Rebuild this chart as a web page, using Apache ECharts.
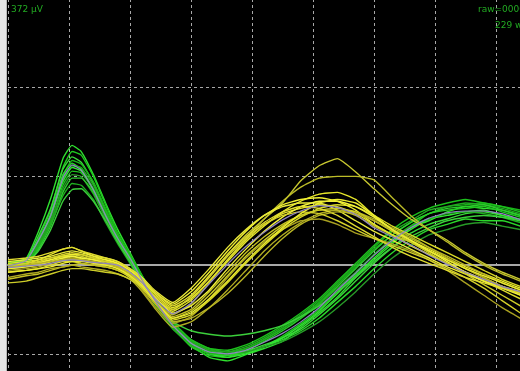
<!DOCTYPE html>
<html>
<head>
<meta charset="utf-8">
<script src="https://cdn.jsdelivr.net/npm/echarts@6/dist/echarts.min.js"></script>
<style>
html,body{margin:0;padding:0;background:#000;}
#c{width:520px;height:371px;}
</style>
</head>
<body>
<div id="c"></div>
<script>
// time axis (ms) shared by all traces
const timesMs = [0,3,5,7,9,10.5,12,14,16,18,20,22,24,27,30,33,36,39,42,45,48,51,54,57,60,63,66,69,72,75,78,81,84];

// green traces (µV-like units, 100 per division)
const g1  = [2,8,38,75,120,135,128,102,70,40,14,-12,-36,-66,-90,-104,-108,-101,-94,-86,-70,-54,-36,-14,6,24,42,50,60,66,64,62,56];
const g2  = [-2,4,30,62,110,128,124,100,68,36,10,-15,-38,-70,-92,-102,-104,-98,-92,-80,-66,-50,-30,-10,12,28,44,58,62,64,66,60,54];
const g3  = [0,6,33,64,108,122,116,92,62,34,10,-16,-40,-68,-86,-96,-100,-97,-90,-82,-72,-56,-38,-18,2,20,36,46,52,58,60,56,52];
const g4  = [-4,1,22,52,100,118,114,94,64,36,12,-12,-36,-64,-84,-94,-98,-94,-84,-72,-58,-42,-22,-2,18,34,48,58,66,68,70,66,62];
const g5  = [1,5,26,58,102,115,108,86,56,28,6,-18,-42,-70,-90,-100,-102,-99,-92,-84,-74,-60,-42,-24,-4,14,28,40,46,52,50,50,44];
const g6  = [-1,2,24,54,96,112,110,90,60,32,8,-16,-38,-66,-86,-96,-98,-92,-82,-70,-56,-40,-20,0,20,38,50,62,66,70,68,64,58];
const g7  = [3,6,28,56,94,110,106,84,54,28,6,-18,-40,-70,-90,-100,-104,-100,-92,-82,-68,-52,-32,-12,8,26,40,52,56,60,62,56,50];
const g8  = [-2,3,20,48,90,106,104,86,58,32,10,-14,-36,-64,-84,-94,-96,-90,-80,-68,-54,-38,-18,2,22,40,54,64,70,74,70,66,60];
const g9  = [0,4,24,50,86,102,100,80,52,26,4,-20,-42,-70,-88,-98,-100,-98,-92,-86,-76,-64,-48,-30,-10,8,22,34,40,46,48,44,40];
const g10 = [-3,0,18,44,82,98,98,82,56,30,8,-16,-40,-68,-88,-98,-102,-96,-86,-74,-60,-44,-24,-4,16,34,48,58,64,66,68,62,56];
const g11 = [2,4,22,46,78,92,90,74,48,24,2,-22,-44,-72,-90,-100,-100,-94,-84,-72,-58,-44,-26,-8,12,30,44,52,58,60,58,54,48];
const g12 = [0,2,16,40,72,85,86,72,50,26,4,-20,-42,-64,-74,-78,-80,-78,-74,-68,-58,-46,-30,-14,4,20,32,42,50,54,56,54,50];

// yellow traces
const y1  = [-2,0,3,6,10,12,10,6,4,0,-10,-22,-38,-50,-36,-12,12,34,52,70,95,112,120,105,86,68,52,40,28,14,2,-8,-16];
const y2  = [-4,-2,0,4,8,8,6,2,0,-4,-14,-26,-40,-56,-44,-20,6,30,52,72,88,98,100,100,96,76,56,40,26,12,0,-10,-18];
const y3  = [-6,-4,-2,2,6,8,6,4,2,-2,-12,-28,-46,-66,-58,-38,-14,8,26,40,50,52,46,36,30,24,16,6,-6,-20,-34,-48,-60];
const y4  = [0,2,6,12,18,20,16,10,6,2,-6,-18,-32,-48,-38,-18,4,26,44,60,72,80,82,74,56,40,28,18,8,-2,-10,-18,-26];
const y5  = [-8,-6,-4,0,4,4,2,0,-2,-6,-14,-26,-42,-62,-56,-40,-20,2,22,40,54,64,68,66,56,44,34,24,14,4,-6,-16,-24];
const y6  = [-2,0,2,6,10,12,12,8,6,2,-6,-16,-30,-44,-30,-8,16,38,56,68,74,76,72,62,46,34,22,12,2,-8,-16,-24,-32];
const y7  = [-16,-12,-10,-6,-2,0,2,0,-2,-6,-12,-24,-40,-58,-50,-30,-8,14,32,46,56,62,62,56,44,34,26,16,6,-4,-14,-24,-34];
const y8  = [4,6,8,10,14,16,14,10,8,4,-4,-14,-28,-42,-26,-4,20,40,56,66,70,70,62,50,38,28,18,8,-2,-10,-18,-24,-30];
const y9  = [-14,-10,-8,-4,-2,0,-2,-4,-6,-10,-16,-30,-48,-70,-64,-48,-28,-6,16,34,48,58,62,60,52,42,32,20,8,-4,-14,-24,-32];
const y10 = [2,4,6,8,10,10,8,6,4,0,-8,-20,-36,-52,-40,-18,6,28,46,58,64,68,66,58,46,34,22,12,2,-8,-18,-28,-38];
const y11 = [-4,-2,0,4,8,10,8,6,2,-2,-10,-22,-36,-54,-46,-28,-4,18,38,54,66,72,72,66,54,40,28,16,4,-8,-18,-26,-34];
const y12 = [-20,-18,-14,-10,-6,-4,-4,-6,-8,-10,-16,-26,-42,-60,-52,-34,-12,10,28,44,56,62,64,60,50,38,26,14,2,-10,-22,-34,-46];
const y13 = [6,8,10,14,18,20,16,12,8,4,-4,-16,-30,-46,-34,-12,12,32,48,60,66,64,56,44,32,20,10,2,-6,-14,-20,-26,-32];
const y14 = [-2,0,2,4,6,6,6,4,2,-2,-10,-24,-42,-64,-60,-48,-32,-12,10,30,46,56,60,58,50,40,30,20,10,0,-10,-20,-28];
const y15 = [0,2,4,8,12,14,12,8,4,0,-8,-20,-34,-50,-36,-14,10,30,46,56,60,58,50,40,30,22,14,6,-4,-14,-26,-40,-54];
const y16 = [-8,-6,-4,-2,2,4,4,2,0,-4,-12,-24,-40,-60,-54,-38,-18,4,24,42,58,70,74,70,56,40,28,16,6,-4,-12,-20,-28];

// mean traces
const greenMean  = [-1,5,28,56,98,113,107,85,56,30,8,-17,-39,-68,-88,-98,-100,-96,-87,-77,-64,-48,-28,-9,11,28,42,53,59,61,61,58,51];
const yellowMean = [-3,-1,0,2,5,6,5,3,2,0,-8,-20,-37,-55,-43,-21,1,21,37,51,61,67,65,57,42,32,23,11,1,-8,-16,-24,-30];

// labels
const scaleLabel = '372 µV';
const rawLabel = 'raw=00001';
const countLabel = '229 w';

const greenTraces = [g1,g2,g3,g4,g5,g6,g7,g8,g9,g10,g11,g12];
const yellowTraces = [y1,y2,y3,y4,y5,y6,y7,y8,y9,y10,y11,y12,y13,y14,y15,y16];
const greenColors = ['#2fe02f','#1fc81f','#39d739','#18b418','#2ad82a','#22a822','#33e633','#1cbf1c','#279a27','#2ccc2c','#1fb01f','#3bcf3b'];
const yellowColors = ['#c8c830','#bcbc28','#a8a020','#e6e62a','#d8d826','#f0f032','#c4c024','#e8e83a','#b0ac22','#dede2c','#f2f23a','#cccc28','#e0dc30','#b8b424','#d4d02a','#ecec30'];

function pairs(arr){ return timesMs.map((t,i)=>[t,arr[i]]); }

const series = [];
greenTraces.forEach((tr,i)=>series.push({
  type:'line', data:pairs(tr), showSymbol:false, smooth:0.15, silent:true,
  lineStyle:{color:greenColors[i], width:1.4}
}));
yellowTraces.forEach((tr,i)=>series.push({
  type:'line', data:pairs(tr), showSymbol:false, smooth:0.15, silent:true,
  lineStyle:{color:yellowColors[i], width:1.4}
}));
[greenMean, yellowMean].forEach(tr=>series.push({
  type:'line', data:pairs(tr), showSymbol:false, smooth:0.15, silent:true,
  lineStyle:{color:'#8f84c0', width:1.2}
}));

const chart = echarts.init(document.getElementById('c'), null, {renderer:'canvas'});
chart.setOption({
  backgroundColor:'#000',
  animation:false,
  grid:{left:8, top:-1, width:549, height:443.5, outerBoundsMode:'none', containLabel:false},
  xAxis:{
    type:'value', min:0, max:90, interval:10,
    axisLine:{show:true, onZero:true, lineStyle:{color:'#a8a8a8', width:2}},
    axisTick:{show:false}, axisLabel:{show:false},
    splitLine:{show:true, lineStyle:{color:'#a8a8a8', width:1, type:[3,3]}}
  },
  yAxis:{
    type:'value', min:-200, max:300, interval:100,
    axisLine:{show:false}, axisTick:{show:false}, axisLabel:{show:false},
    splitLine:{show:true, lineStyle:{color:'#a8a8a8', width:1, type:[3,3]}}
  },
  graphic:[
    {type:'rect', left:0, top:0, shape:{width:7, height:371}, style:{fill:'#e6e6e6'}, z:100},
    {type:'rect', left:6, top:0, shape:{width:1, height:371}, style:{fill:'#b8b8b8'}, z:100},
    {type:'text', left:11, top:5, style:{text:scaleLabel, fill:'#22aa22', font:'9px "DejaVu Sans"'}, z:100},
    {type:'text', left:478, top:5, style:{text:rawLabel, fill:'#22aa22', font:'9px "DejaVu Sans"'}, z:100},
    {type:'text', left:495, top:21, style:{text:countLabel, fill:'#22aa22', font:'9px "DejaVu Sans"'}, z:100}
  ],
  series:series
});
</script>
</body>
</html>
